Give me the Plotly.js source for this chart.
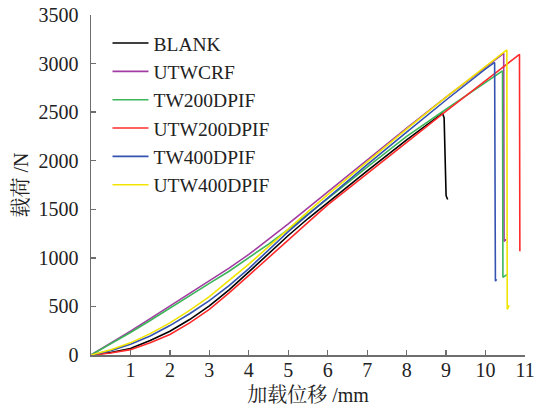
<!DOCTYPE html>
<html>
<head>
<meta charset="utf-8">
<script src="https://cdn.plot.ly/plotly-3.0.1.min.js"></script>
<style>html,body{margin:0;padding:0;background:#fff;}#chart{width:535px;height:409px;}</style>
</head>
<body>
<div id="chart"></div>
<script>
// Series names
const seriesNames = ["BLANK", "UTWCRF", "TW200DPIF", "UTW200DPIF", "TW400DPIF", "UTW400DPIF"];
const seriesColors = ["#000000", "#a23ca2", "#3cb55a", "#ff2b2b", "#3453b0", "#f2e400"];

// Displacement (mm) and load (N) values
const blankX = [0, 0.5, 1, 1.5, 2, 2.5, 3, 3.5, 4, 4.5, 5, 5.5, 6, 7, 8, 8.91, 8.95, 8.98, 9.0, 9.04];
const blankY = [0, 25, 67, 150, 245, 365, 505, 670, 855, 1045, 1230, 1405, 1570, 1895, 2215, 2489, 2440, 1750, 1640, 1600];

const utwcrfX = [0, 0.5, 1, 1.5, 2, 2.5, 3, 3.5, 4, 4.5, 5, 5.5, 6, 7, 8, 9, 10, 10.45, 10.46, 10.47, 10.52];
const utwcrfY = [0, 122, 245, 375, 505, 632, 762, 895, 1035, 1188, 1350, 1515, 1680, 2008, 2335, 2655, 2965, 3105, 3105, 1170, 1190];

const tw200X = [0, 0.5, 1, 1.5, 2, 2.5, 3, 3.5, 4, 4.5, 5, 5.5, 6, 7, 8, 9, 10, 10.42, 10.43, 10.44, 10.55];
const tw200Y = [0, 115, 232, 355, 485, 610, 737, 862, 998, 1142, 1292, 1448, 1610, 1935, 2250, 2530, 2805, 2925, 2925, 800, 830];

const utw200X = [0, 0.5, 1, 1.5, 2, 2.5, 3, 3.5, 4, 4.5, 5, 5.5, 6, 7, 8, 9, 10, 10.85, 10.86, 10.87];
const utw200Y = [0, 20, 55, 125, 211, 330, 470, 640, 820, 1005, 1185, 1365, 1545, 1870, 2190, 2510, 2825, 3095, 3095, 1067];

const tw400X = [0, 0.5, 1, 1.5, 2, 2.5, 3, 3.5, 4, 4.5, 5, 5.5, 6, 7, 8, 9, 10, 10.22, 10.23, 10.25, 10.28];
const tw400Y = [0, 45, 110, 195, 303, 425, 560, 715, 890, 1080, 1270, 1445, 1620, 1960, 2295, 2625, 2945, 3012, 3012, 760, 780];

const utw400X = [0, 0.5, 1, 1.5, 2, 2.5, 3, 3.5, 4, 4.5, 5, 5.5, 6, 7, 8, 9, 10, 10.53, 10.54, 10.55, 10.6];
const utw400Y = [0, 55, 125, 220, 331, 460, 600, 765, 935, 1115, 1300, 1475, 1650, 1990, 2325, 2655, 2975, 3140, 3140, 470, 510];

const xTickVals = [1, 2, 3, 4, 5, 6, 7, 8, 9, 10, 11];
const yTickVals = [0, 500, 1000, 1500, 2000, 2500, 3000, 3500];

const xs = [blankX, utwcrfX, tw200X, utw200X, tw400X, utw400X];
const ys = [blankY, utwcrfY, tw200Y, utw200Y, tw400Y, utw400Y];

const traces = seriesNames.map((n, i) => ({
  type: "scatter", mode: "lines", name: n,
  x: xs[i], y: ys[i],
  line: {color: seriesColors[i], width: 1.6}
}));

const FONT = "Liberation Serif, 'Times New Roman', 'Noto Serif CJK SC', 'Noto Sans CJK SC', serif";
const AXC = "#6e6e6e";

const layout = {
  width: 535, height: 409,
  margin: {l: 91, r: 10, t: 15, b: 53.5, pad: 0},
  paper_bgcolor: "#fff", plot_bgcolor: "#fff",
  font: {family: FONT, size: 20, color: "#222"},
  showlegend: true,
  legend: {
    x: 0.038, y: 0.974, xanchor: "left", yanchor: "top",
    bgcolor: "rgba(0,0,0,0)", borderwidth: 0,
    font: {family: FONT, size: 19.5, color: "#222"},
    itemwidth: 36
  },
  xaxis: {
    range: [0, 11], tickvals: xTickVals, ticktext: xTickVals.map(String),
    showgrid: false, zeroline: false,
    showline: true, linecolor: AXC, linewidth: 1.5,
    ticks: "inside", ticklen: 5, tickwidth: 1.3, tickcolor: AXC,
    tickfont: {family: FONT, size: 20, color: "#222"},
    ticklabelstandoff: -4,
    title: {text: "加载位移 /mm", font: {family: FONT, size: 20, color: "#222"}, standoff: 8},
    automargin: false
  },
  yaxis: {
    range: [0, 3500], tickvals: yTickVals, ticktext: yTickVals.map(String),
    showgrid: false, zeroline: false,
    showline: true, linecolor: AXC, linewidth: 1.5,
    ticks: "inside", ticklen: 5, tickwidth: 1.3, tickcolor: AXC,
    tickfont: {family: FONT, size: 20, color: "#222"},
    ticklabelstandoff: 7,
    title: {text: "载荷 /N", font: {family: FONT, size: 20, color: "#222"}, standoff: 4},
    automargin: false
  }
};

Plotly.newPlot("chart", traces, layout, {displayModeBar: false, staticPlot: true});
</script>
</body>
</html>
